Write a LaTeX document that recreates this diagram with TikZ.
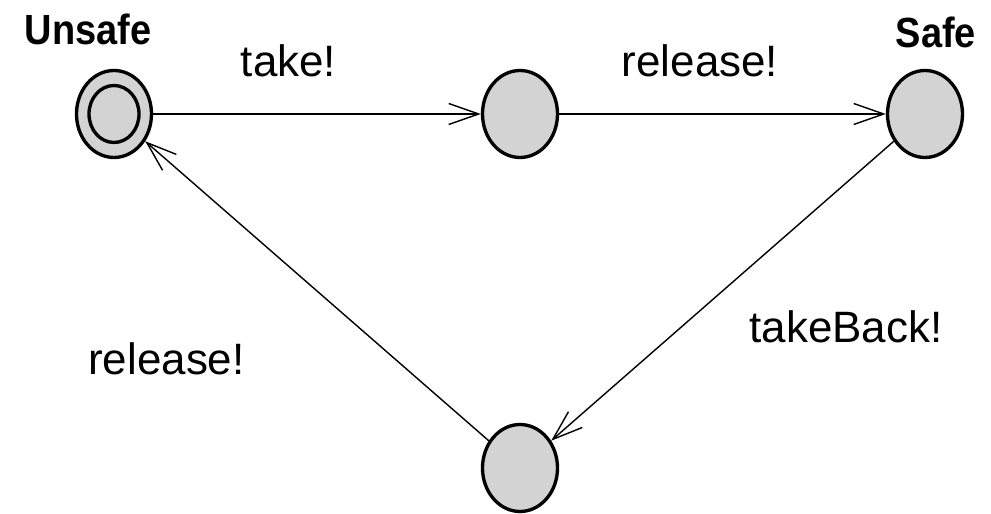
\documentclass[tikz,border=0pt]{standalone}
\usepackage{fontspec}
\setmainfont{Liberation Sans}
\usepackage{xcolor}
\usepackage{tikz}
\usetikzlibrary{shapes.geometric,arrows.meta,positioning}

\definecolor{locgray}{RGB}{211,211,211}
\newcommand{\locnametext}[1]{\scalebox{0.9}[1]{#1}}

\begin{document}
\begin{tikzpicture}[
    loc/.style={draw, ellipse, fill=locgray, line width=1.9pt, inner sep=0pt, minimum width=1.5cm, minimum height=1.74cm},
    lbl/.style={font=\fontsize{25}{30}\selectfont, anchor=base},
    locname/.style={font=\fontsize{24}{28}\selectfont\bfseries, anchor=base},
    >={Straight Barb[length=0.6cm, width=0.42cm]}]
    \useasboundingbox (0,0) rectangle (19.82,10.28);
    % locations
    \node[loc] (unsafe) at (2.28,8.0) {};
    \node[loc, minimum width=1.0cm, minimum height=1.14cm] (unsafein) at (unsafe) {};
    \node[loc] (mid) at (10.4,8.0) {};
    \node[loc] (safe) at (18.5,8.0) {};
    \node[loc] (back) at (10.4,0.92) {};
    % location names
    \node[locname] (unsafename) at (1.76,9.38) {\locnametext{Unsafe}};
    \node[locname] (safename) at (18.72,9.32) {\locnametext{Safe}};
    % transitions
    \draw[->, line width=0.8pt] (unsafe) -- (mid);
    \draw[->, line width=0.8pt] (mid) -- (safe);
    \draw[->, line width=0.8pt] (safe) -- (back);
    \draw[->, line width=0.8pt] (back) -- (unsafe);
    % synchronisation labels
    \node[lbl] (take) at (5.77,8.74) {take!};
    \node[lbl] (rel1) at (14.0,8.74) {release!};
    \node[lbl] (takeback) at (16.92,3.42) {takeBack!};
    \node[lbl] (rel2) at (3.33,2.78) {release!};
\end{tikzpicture}
\end{document}
